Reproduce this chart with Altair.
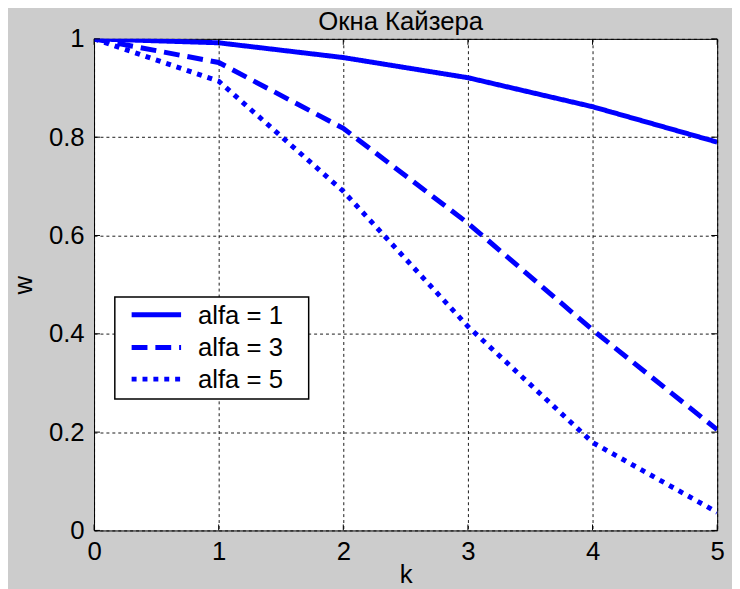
import altair as alt
import pandas as pd

# ---- data ----
k = [0, 1, 2, 3, 4, 5]
alfa1 = [1.0, 0.992, 0.962, 0.921, 0.862, 0.790]
alfa3 = [1.0, 0.952, 0.818, 0.625, 0.408, 0.205]
alfa5 = [1.0, 0.914, 0.690, 0.415, 0.179, 0.037]
series_names = ["alfa = 1", "alfa = 3", "alfa = 5"]
x_ticks = [0, 1, 2, 3, 4, 5]
y_ticks = [0, 0.2, 0.4, 0.6, 0.8, 1]
title_text = "Окна Кайзера"
x_title = "k"
y_title = "w"

rows = []
for name, vals in zip(series_names, [alfa1, alfa3, alfa5]):
    for kk, v in zip(k, vals):
        rows.append({"k": kk, "w": v, "series": name})
df = pd.DataFrame(rows)

W, H = 630, 497
FONT = "Liberation Sans"
BLUE = "#0000ff"
DASHES = [[1, 0], [16, 8], [5, 6]]
FS = 26

xscale = alt.Scale(domain=[0, 5], nice=False, zero=False)
yscale = alt.Scale(domain=[0, 1], nice=False)

x_axis = alt.Axis(values=x_ticks, title=x_title, grid=True, gridDash=[3, 3],
                  gridColor="#000", gridOpacity=0.9, ticks=False, tickSize=0, domain=False,
                  labelPadding=8, labelFlush=False, labelFontSize=FS, labelFont=FONT,
                  labelColor="#000", format="d", titleFontSize=FS, titleFont=FONT,
                  titleFontWeight="normal", titleColor="#000", titleY=53,
                  titleBaseline="alphabetic")
y_axis = alt.Axis(values=y_ticks, title=y_title, grid=True, gridDash=[3, 3],
                  gridColor="#000", gridOpacity=0.9, ticks=False, tickSize=0, domain=False,
                  labelPadding=10, labelFlush=False, labelFontSize=FS, labelFont=FONT,
                  labelColor="#000", format="~g", titleFontSize=FS, titleFont=FONT,
                  titleFontWeight="normal", titleColor="#000", titleX=-63,
                  titleBaseline="alphabetic", titleAngle=270)

X = alt.X("k:Q", scale=xscale, axis=x_axis)
Y = alt.Y("w:Q", scale=yscale, axis=y_axis)

lines = alt.Chart(df).mark_line(strokeWidth=5, color=BLUE, clip=True, strokeCap="butt").encode(
    x=X, y=Y,
    detail="series:N",
    strokeDash=alt.StrokeDash("series:N", scale=alt.Scale(domain=series_names, range=DASHES),
                              legend=None),
)

# inward tick marks (MATLAB style)
xt = pd.DataFrame({"k": x_ticks})
yt = pd.DataFrame({"w": y_ticks})
TL = 6
tick_b = alt.Chart(xt).mark_rule(color="#000", strokeWidth=1).encode(
    x=X, y=alt.value(H), y2=alt.value(H - TL))
tick_t = alt.Chart(xt).mark_rule(color="#000", strokeWidth=1).encode(
    x=X, y=alt.value(0), y2=alt.value(TL))
tick_l = alt.Chart(yt).mark_rule(color="#000", strokeWidth=1).encode(
    y=Y, x=alt.value(0), x2=alt.value(TL))
tick_r = alt.Chart(yt).mark_rule(color="#000", strokeWidth=1).encode(
    y=Y, x=alt.value(W), x2=alt.value(W - TL))

# legend box
one = pd.DataFrame({"a": [0]})
leg_box = alt.Chart(one).mark_rect(fill="white", stroke="#000", strokeWidth=1.5).encode(
    x=alt.value(21), x2=alt.value(217), y=alt.value(261), y2=alt.value(364))

leg_layers = []
row_y = [279, 312, 344]
for name, dash, yy in zip(series_names, DASHES, row_y):
    d = pd.DataFrame({"series": [name]})
    leg_layers.append(alt.Chart(d).mark_rule(color=BLUE, strokeWidth=5, strokeDash=dash,
                                             strokeCap="butt").encode(
        x=alt.value(38), x2=alt.value(88), y=alt.value(yy)))
    leg_layers.append(alt.Chart(d).mark_text(align="left", baseline="middle", fontSize=FS,
                                             font=FONT, color="#000").encode(
        x=alt.value(105), y=alt.value(yy + 1), text="series:N"))

# title as text above the plot area
tdf = pd.DataFrame({"t": [title_text]})
title_mark = alt.Chart(tdf).mark_text(align="center", baseline="alphabetic", fontSize=26,
                                      font=FONT, color="#000").encode(
    x=alt.value(W / 2 - 5), y=alt.value(-9), text="t:N")

chart = alt.layer(lines, tick_b, tick_t, tick_l, tick_r, leg_box, *leg_layers,
                  title_mark).properties(
    width=W, height=H,
    padding={"left": 87, "top": 28, "right": 15, "bottom": 56},
    autosize=alt.AutoSizeParams(type="none"),
).configure(background="#cccccc").configure_view(fill="white", stroke="#000", strokeWidth=1)

chart.save("out.html", embed_options={"renderer": "svg", "actions": False})
